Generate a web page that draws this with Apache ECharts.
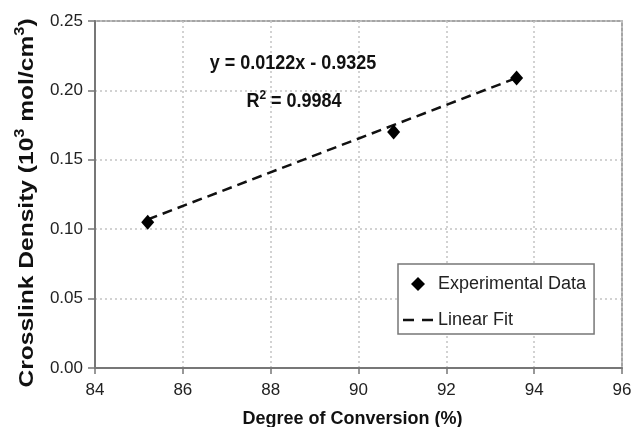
<!DOCTYPE html>
<html>
<head>
<meta charset="utf-8">
<script src="https://cdn.jsdelivr.net/npm/echarts@6/dist/echarts.min.js"></script>
<style>
  html, body { margin: 0; padding: 0; background: #ffffff; }
  #chart { width: 632px; height: 427px; }
</style>
</head>
<body>
<div id="chart"></div>
<script>
// Measured crosslink density against degree of conversion
const conversion = [85.2, 90.8, 93.6];
const crosslinkDensity = [0.105, 0.170, 0.209];

// End points of the fitted straight line
const fitConversion = [85.2, 93.6];
const fitDensity = [0.107, 0.209];

const seriesNames = ['Experimental Data', 'Linear Fit'];
const xTitle = 'Degree of Conversion (%)';
const fitEquation = 'y = 0.0122x - 0.9325';
const fitR2 = '0.9984';

const FONT = '"Liberation Sans", Arial, Helvetica, sans-serif';

const chart = echarts.init(document.getElementById('chart'), null, { renderer: 'canvas' });

const pointData = conversion.map((x, i) => [x, crosslinkDensity[i]]);
const fitData = fitConversion.map((x, i) => [x, fitDensity[i]]);

const boldRich = (size, sup) => ({
  b: { fontFamily: FONT, fontSize: size, fontWeight: 'bold', fill: '#111111' },
  s: { fontFamily: FONT, fontSize: sup, fontWeight: 'bold', fill: '#111111', padding: [0, 0, Math.round(size * 0.6), 0] }
});

chart.setOption({
  backgroundColor: '#ffffff',
  animation: false,
  grid: {
    left: 95, right: 10, top: 21, bottom: 59,
    outerBoundsMode: 'none',
    containLabel: false,
    show: true, borderColor: '#888888', borderWidth: 1.5,
    backgroundColor: '#ffffff'
  },
  xAxis: {
    type: 'value',
    min: 84, max: 96, interval: 2,
    name: xTitle,
    nameLocation: 'middle',
    nameGap: 42,
    nameTextStyle: { fontFamily: FONT, fontSize: 18, fontWeight: 'bold', color: '#111111', padding: [0, 12, 0, 0] },
    axisLine: { show: true, onZero: false, lineStyle: { color: '#777777', width: 2 } },
    axisTick: { show: true, length: 6, lineStyle: { color: '#777777', width: 1.5 } },
    axisLabel: { fontFamily: FONT, fontSize: 17, color: '#222222', margin: 14 },
    splitLine: { show: true, lineStyle: { color: '#c4c4c4', width: 1.5, type: [2, 3] } }
  },
  yAxis: {
    type: 'value',
    min: 0, max: 0.25, interval: 0.05,
    axisLine: { show: true, onZero: false, lineStyle: { color: '#777777', width: 2 } },
    axisTick: { show: true, length: 7, lineStyle: { color: '#777777', width: 1.5 } },
    axisLabel: {
      fontFamily: FONT, fontSize: 17, color: '#222222', margin: 12,
      formatter: v => v.toFixed(2)
    },
    splitLine: { show: true, lineStyle: { color: '#c4c4c4', width: 1.5, type: [2, 3] } }
  },
  legend: {
    data: [
      { name: seriesNames[0], icon: 'path://M7,0L14,7L7,14L0,7Z' },
      { name: seriesNames[1], icon: 'path://M0,0h11v2.6h-11z M19,0h11v2.6h-11z' }
    ],
    orient: 'vertical',
    left: 398, top: 264,
    padding: [11, 8, 5, 5],
    itemWidth: 30, itemHeight: 14, itemGap: 18,
    symbolKeepAspect: true,
    borderColor: '#777777', borderWidth: 1.5,
    backgroundColor: '#ffffff',
    textStyle: { fontFamily: FONT, fontSize: 18, color: '#222222' }
  },
  graphic: [
    // vertical axis title, slightly tall lettering
    {
      type: 'text', x: 27, y: 203, z: 100,
      rotation: Math.PI / 2,
      scaleX: 1.17,
      style: {
        text: '{b|Crosslink Density (10}{s|3}{b| mol/cm}{s|3}{b|)}',
        align: 'center', verticalAlign: 'middle',
        rich: boldRich(21, 14)
      }
    },
    // fitted line equation
    {
      type: 'text', x: 293, y: 63, z: 100,
      scaleY: 1.12,
      style: {
        text: fitEquation,
        font: 'bold 18px ' + FONT,
        fill: '#111111',
        align: 'center', verticalAlign: 'middle'
      }
    },
    {
      type: 'text', x: 294, y: 101, z: 100,
      scaleY: 1.12,
      style: {
        text: '{b|R}{s|2}{b| = ' + fitR2 + '}',
        align: 'center', verticalAlign: 'middle',
        rich: boldRich(18, 12)
      }
    }
  ],
  series: [
    {
      name: seriesNames[0],
      type: 'scatter',
      data: pointData,
      symbol: 'diamond',
      symbolSize: [13, 15],
      itemStyle: { color: '#000000', opacity: 1 },
      emphasis: { disabled: true },
      z: 5
    },
    {
      name: seriesNames[1],
      type: 'line',
      data: fitData,
      symbol: 'none',
      lineStyle: { color: '#111111', width: 2.5, type: [10, 6] },
      itemStyle: { color: '#111111' },
      emphasis: { disabled: true },
      z: 4
    }
  ]
});
</script>
</body>
</html>
